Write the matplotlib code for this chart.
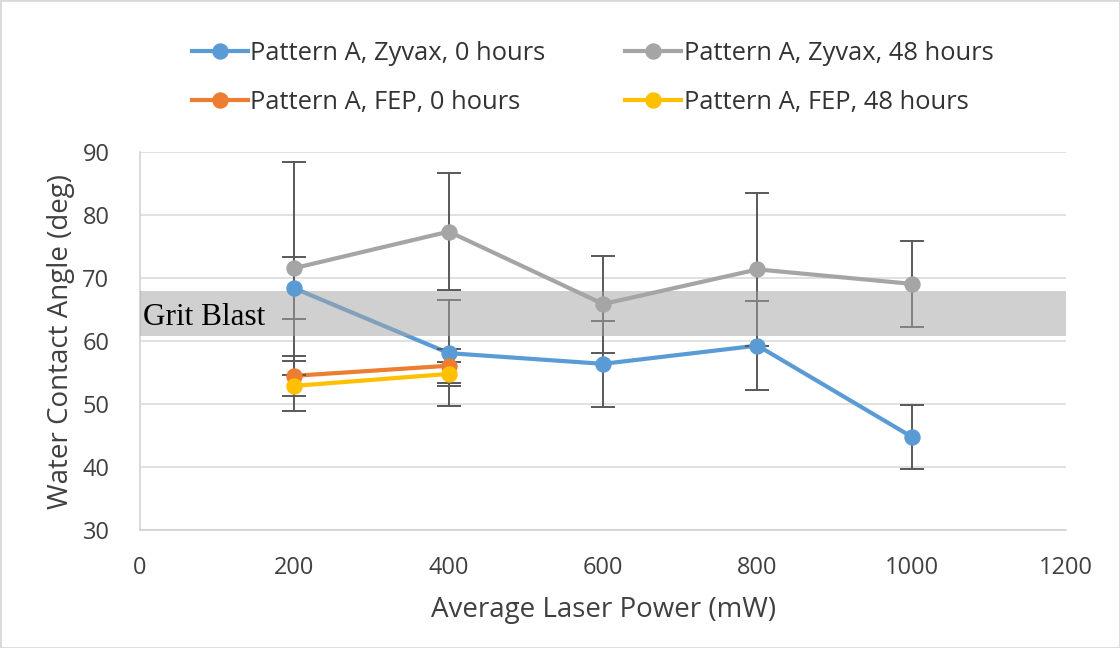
import matplotlib
matplotlib.use('Agg')
import matplotlib.pyplot as plt
from matplotlib.lines import Line2D
from matplotlib.patches import Rectangle

plt.rcParams['font.family'] = ['Open Sans', 'DejaVu Sans']

# 平均レーザー出力 (mW)
power = [200, 400, 600, 800, 1000]
power_fep = [200, 400]

# 水接触角 (deg) と誤差
zyvax_0h = [68.4, 58.1, 56.4, 59.3, 44.8]
zyvax_0h_err = [4.9, 8.4, 6.85, 7.1, 5.1]
zyvax_48h = [71.6, 77.4, 65.9, 71.4, 69.1]
zyvax_48h_err = [16.9, 9.3, 7.7, 12.2, 6.8]
fep_0h = [54.5, 56.1]
fep_0h_err = [3.2, 2.7]
fep_48h = [52.9, 54.8]
fep_48h_err = [4.0, 1.9]

# グリットブラストの範囲
grit_low, grit_high = 60.8, 67.9

x_ticks = [0, 200, 400, 600, 800, 1000, 1200]
y_ticks = [30, 40, 50, 60, 70, 80, 90]

series = [
    ('Pattern A, Zyvax, 0 hours', power, zyvax_0h, zyvax_0h_err, '#5b9bd5'),
    ('Pattern A, FEP, 0 hours', power_fep, fep_0h, fep_0h_err, '#ed7d31'),
    ('Pattern A, Zyvax, 48 hours', power, zyvax_48h, zyvax_48h_err, '#a5a5a5'),
    ('Pattern A, FEP, 48 hours', power_fep, fep_48h, fep_48h_err, '#ffc000'),
]


def main():
    fig = plt.figure(figsize=(11.2, 6.48), dpi=100)
    ax = fig.add_axes([0.125, 0.182, 0.827, 0.583])

    handles = []
    for label, x, y, err, color in series:
        ax.errorbar(x, y, yerr=err, fmt='none', ecolor='#595959',
                    elinewidth=1.4, capsize=8.5, capthick=1.4, zorder=2)
        ax.plot(x, y, color=color, lw=3.0, zorder=2)
        ax.plot(x, y, 'o', color=color, ms=10.8, zorder=4)
        handles.append(Line2D([], [], color=color, lw=3.0, marker='o', ms=10.8, label=label))

    # 帯（半透明で線の上に重ねる）
    ax.axhspan(grit_low, grit_high, color='#a5a5a5', alpha=0.52, lw=0, zorder=3)
    ax.text(4, 62.5, 'Grit Blast', family='Liberation Serif', fontsize=22.5,
            color='black', va='baseline', ha='left', zorder=5)

    ax.set_xlim(0, 1200)
    ax.set_ylim(30, 90)
    ax.set_xticks(x_ticks)
    ax.set_yticks(y_ticks)
    ax.grid(axis='y', color='#d9d9d9', lw=1.1, zorder=0)
    ax.set_axisbelow(True)
    for side in ['top', 'right']:
        ax.spines[side].set_visible(False)
    for side in ['left', 'bottom']:
        ax.spines[side].set_color('#d0d0d0')
        ax.spines[side].set_linewidth(1.1)
    ax.tick_params(length=0, labelsize=17, colors='#404040')
    ax.tick_params(axis='y', pad=22)
    ax.tick_params(axis='x', pad=19)

    ax.set_xlabel('Average Laser Power (mW)', fontsize=20, color='#404040', labelpad=11)
    ax.set_ylabel('Water Contact Angle (deg)', fontsize=20, color='#404040', labelpad=5)

    fig.legend(handles=handles, ncol=2, frameon=False, fontsize=18.4,
               loc='center', bbox_to_anchor=(0.529, 0.880),
               handlelength=2.2, handletextpad=0.1, columnspacing=3.1,
               labelspacing=0.95, labelcolor='#333333')

    fig.patches.append(Rectangle((0, 0), 1, 1, transform=fig.transFigure,
                                 fill=False, edgecolor='#d9d9d9', lw=2))

    fig.savefig('out.png', dpi=100)


if __name__ == '__main__':
    main()
